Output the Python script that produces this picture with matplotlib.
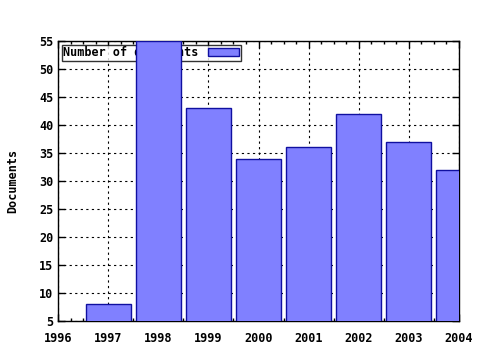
import matplotlib
matplotlib.use("Agg")
import matplotlib.pyplot as plt
from matplotlib.ticker import MultipleLocator

# Datos
anios = [1997, 1998, 1999, 2000, 2001, 2002, 2003, 2004]
documentos = [8, 55, 43, 34, 36, 42, 37, 32]

plt.rcParams['font.family'] = 'DejaVu Sans Mono'
plt.rcParams['font.weight'] = 'bold'
plt.rcParams['axes.labelweight'] = 'bold'
plt.rcParams['font.size'] = 8.5

fig = plt.figure(figsize=(4.8, 3.5), dpi=100)
ax = fig.add_axes([58/480, 1 - 321/350, (459 - 58)/480, (321 - 41)/350])

barras = ax.bar(anios, documentos, width=0.9, bottom=0, color="#8080ff",
                edgecolor="#1010a0", linewidth=1.0, label="Number of documents",
                zorder=3)

ax.set_xlim(1996, 2004)
ax.set_ylim(5, 55)
ax.xaxis.set_major_locator(MultipleLocator(1))
ax.xaxis.set_minor_locator(MultipleLocator(0.25))
ax.yaxis.set_major_locator(MultipleLocator(5))
ax.tick_params(which="both", direction="in", top=True, right=True, width=1)
ax.tick_params(which="major", length=5)
ax.tick_params(which="minor", length=2.5)
ax.tick_params(axis="x", pad=8)
ax.grid(True, which="major", linestyle=(0, (2, 3)), color="black", linewidth=0.8, zorder=1)
for s in ax.spines.values():
    s.set_linewidth(1)

ax.set_ylabel("Documents", labelpad=14, fontweight="bold")

leg = ax.legend(loc="upper left", bbox_to_anchor=(0.0, 1.0), frameon=True, fancybox=False,
                edgecolor="black", borderpad=0.15, handlelength=2.6, handleheight=0.6,
                borderaxespad=0.3, markerfirst=False, handletextpad=0.8)
leg.get_frame().set_linewidth(1)
leg.set_zorder(2)

fig.savefig("out.png", dpi=100)
